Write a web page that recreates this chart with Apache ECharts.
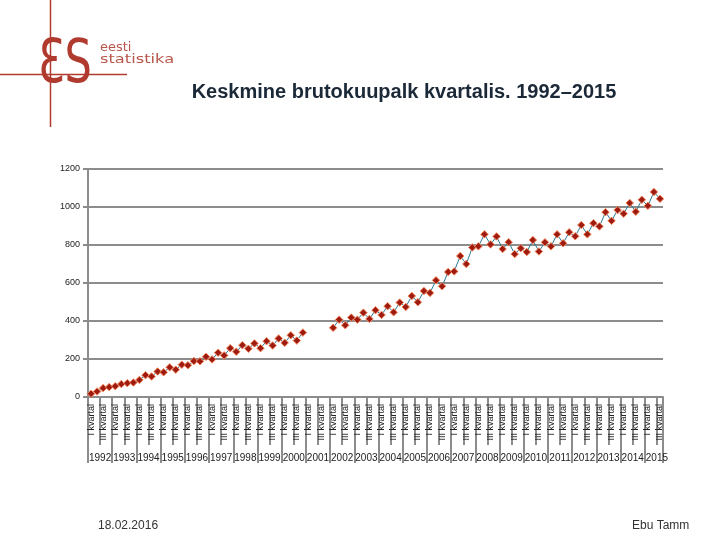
<!DOCTYPE html>
<html>
<head>
<meta charset="utf-8">
<script src="https://cdn.jsdelivr.net/npm/echarts@6/dist/echarts.min.js"></script>
<style>
html,body{margin:0;padding:0;background:#fff;}
#chart{width:720px;height:540px;}
</style>
</head>
<body>
<div id="chart"></div>
<script>
// ---- data ----
var years = ['1992','1993','1994','1995','1996','1997','1998','1999','2000','2001','2002','2003',
             '2004','2005','2006','2007','2008','2009','2010','2011','2012','2013','2014','2015'];
var quarterNames = ['I kvartal','II kvartal','III kvartal','IV kvartal'];
var quartersInLastYear = 3;

// 1992 Q1 – 2000 Q4
var values1992_2000 = [17,29,47,52, 57,68,73,76, 90,115,108,134, 130,156,144,170, 167,189,188,212,
                       198,233,219,257, 238,273,254,282, 257,294,271,308, 285,325,297,339];
// 2001 – no data
var values2001 = [null,null,null,null];
// 2002 Q1 – 2015 Q3
var values2002_2015 = [364,407,378,418, 407,444,411,457, 432,478,446,497, 474,532,499,558,
                       548,614,583,658, 661,742,700,787, 793,856,803,845, 779,815,752,783,
                       763,826,766,814, 793,856,809,867, 846,905,856,915, 898,973,927,984,
                       965,1021,975,1038, 1006,1079,1043];
var yTicks = {min:0, max:1200, step:200};

var titleText = 'Keskmine brutokuupalk kvartalis. 1992–2015';
var footerLeft = '18.02.2016';
var footerRight = 'Ebu Tamm';

// ---- build ----
var quarterCats = [], yearCats = [];
years.forEach(function(y, i){
  var n = (i === years.length - 1) ? quartersInLastYear : 4;
  for (var q = 0; q < n; q++){ quarterCats.push(quarterNames[q]); yearCats.push(y); }
});
var values = values1992_2000.concat(values2001, values2002_2015);

var FONT = '"Liberation Sans", Arial, sans-serif';
var GRAY = '#8c8c8c';
var RED = '#b03a2e';

var chart = echarts.init(document.getElementById('chart'));
chart.setOption({
  animation:false,
  backgroundColor:'#fff',
  title:{
    text:titleText, left:399, top:77, textAlign:'center',
    textStyle:{fontFamily:FONT, fontSize:20, fontWeight:'bold', color:'#1b2838'}
  },
  grid:{left:88, right:57, top:169, bottom:143, containLabel:false},
  xAxis:[{
    type:'category', data:quarterCats, boundaryGap:true, position:'bottom',
    axisLine:{show:true, lineStyle:{color:GRAY, width:2}},
    axisTick:{show:true, interval:1, length:48, lineStyle:{color:GRAY, width:2}},
    axisLabel:{interval:1, rotate:90, fontSize:9, color:'#222', margin:7, fontFamily:FONT},
    splitLine:{show:false}
  },{
    type:'category', data:yearCats, boundaryGap:true, position:'bottom',
    axisLine:{show:false},
    axisTick:{show:true, interval:function(i){return i % 4 === 0;}, length:66, lineStyle:{color:GRAY, width:2}},
    axisLabel:{interval:function(i){return i % 4 === 1;}, fontSize:10, color:'#222', margin:56,
               padding:[0,0,0,6], fontFamily:FONT},
    splitLine:{show:false}
  }],
  yAxis:{
    type:'value', min:yTicks.min, max:yTicks.max, interval:yTicks.step,
    axisLine:{show:true, lineStyle:{color:GRAY, width:2}},
    axisTick:{show:true, length:5, lineStyle:{color:GRAY, width:2}},
    axisLabel:{fontSize:9, color:'#222', margin:8, fontFamily:FONT, formatter:function(v){return String(v);}},
    splitLine:{show:true, lineStyle:{color:GRAY, width:2}}
  },
  series:[{
    type:'line', xAxisIndex:0, data:values, connectNulls:false,
    symbol:'diamond', symbolSize:7.5, showSymbol:true, showAllSymbol:true,
    lineStyle:{color:'#2b7a94', width:1},
    itemStyle:{color:'#9e1b12', borderColor:'#f5865c', borderWidth:1}
  }],
  graphic:[
    {type:'line', shape:{x1:50.5, y1:0, x2:50.5, y2:127}, style:{stroke:RED, lineWidth:1.5}},
    {type:'line', shape:{x1:0, y1:74.5, x2:127, y2:74.5}, style:{stroke:RED, lineWidth:1.5}},
    {type:'text', x:38, y:36, scaleX:0.72, style:{text:'ƐS', fill:RED, font:'normal 60px "DejaVu Sans", sans-serif'}},
    {type:'text', x:100, y:41, style:{text:'eesti', fill:'#b8564a', font:'normal 13px "DejaVu Sans", sans-serif'}},
    {type:'text', x:100, y:53, scaleX:1.25, style:{text:'statistika', fill:'#b8564a', font:'normal 13px "DejaVu Sans", sans-serif'}},
    {type:'text', x:98, y:520, style:{text:footerLeft, fill:'#333', font:'normal 12px "Liberation Sans", Arial, sans-serif'}},
    {type:'text', x:632, y:520, style:{text:footerRight, fill:'#333', font:'normal 12px "Liberation Sans", Arial, sans-serif'}}
  ]
});
</script>
</body>
</html>
